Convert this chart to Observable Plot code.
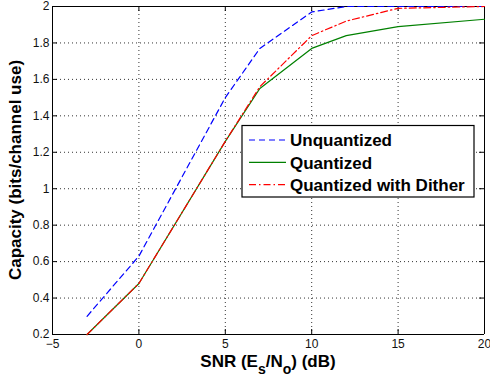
<!DOCTYPE html>
<html><head><meta charset="utf-8">
<script src="https://cdn.jsdelivr.net/npm/d3@7"></script>
<script src="https://cdn.jsdelivr.net/npm/@observablehq/plot@0.6"></script>
<style>
body{margin:0;background:#fff}
#chart{position:relative;width:490px;height:382px}
#chart svg{font-family:"Liberation Sans",Arial,Helvetica,sans-serif;display:block;position:absolute;left:0;top:0}
</style>
</head><body><div id="chart"></div>
<script>
// ---- data ----
const snr = [-3, 0, 5, 7, 10, 12, 15, 20];
const unquantized = [0.30, 0.63, 1.50, 1.77, 1.97, 2.00, 2.00, 2.00];
const quantized   = [0.20, 0.48, 1.26, 1.55, 1.77, 1.84, 1.89, 1.93];
const dither      = [0.20, 0.48, 1.26, 1.56, 1.84, 1.92, 1.99, 2.00];
const seriesNames = ["Unquantized", "Quantized", "Quantized with Dither"];
const seriesColors = ["#0000ff", "#008000", "#ff0000"];
const seriesDash = ["6,4", null, "7,3,1.5,3"];
const xTicks = [-5, 0, 5, 10, 15, 20];
const yTicks = [0.2, 0.4, 0.6, 0.8, 1.0, 1.2, 1.4, 1.6, 1.8, 2.0];
const xDomain = [-5, 20];
const yDomain = [0.2, 2];
const xLabelParts = ["SNR (E", "s", "/N", "o", ") (dB)"];
const yLabel = "Capacity (bits/channel use)";

// ---- layout ----
const W = 490, H = 382;
const mL = 52, mR = 6, mT = 6, mB = 48;
const pw = W - mL - mR, ph = H - mT - mB;
const common = {
  width: W, height: H,
  marginLeft: mL, marginRight: mR, marginTop: mT, marginBottom: mB,
  x: {domain: xDomain}, y: {domain: yDomain}
};

// background layer: grid, ticks, frame, tick labels
const back = Plot.plot({
  ...common,
  style: {fontSize: "12px", background: "#fff"},
  marks: [
    Plot.ruleX(xTicks, {x: d => d, stroke: "#000", strokeOpacity: 0.8, strokeDasharray: "1,3"}),
    Plot.ruleY(yTicks, {y: d => d, stroke: "#000", strokeOpacity: 0.8, strokeDasharray: "1,3"}),
    Plot.ruleX(xTicks, {x: d => d, insetTop: ph - 5, stroke: "#000"}),
    Plot.ruleX(xTicks, {x: d => d, insetBottom: ph - 5, stroke: "#000"}),
    Plot.ruleY(yTicks, {y: d => d, insetRight: pw - 5, stroke: "#000"}),
    Plot.ruleY(yTicks, {y: d => d, insetLeft: pw - 5, stroke: "#000"}),
    Plot.ruleX(xDomain, {x: d => d, stroke: "#000"}),
    Plot.ruleY(yDomain, {y: d => d, stroke: "#000"}),
    Plot.axisX(xTicks, {tickSize: 0, tickPadding: 5, label: null, fill: "#111"}),
    Plot.axisY(yTicks, {tickSize: 0, tickPadding: 3, label: null, fill: "#111",
      tickFormat: d => String(+d.toFixed(1))})
  ]
});

// foreground layer: data lines, labels, legend
const seriesValues = [unquantized, quantized, dither];
const rows = seriesNames.flatMap((name, i) => snr.map((x, j) => ({series: name, x, y: seriesValues[i][j]})));
const lineMarks = seriesNames.map((name, i) => Plot.line(rows.filter(d => d.series === name), {
  x: "x", y: "y", stroke: seriesColors[i], strokeWidth: 1.2,
  strokeDasharray: seriesDash[i] || undefined
}));
const front = Plot.plot({
  ...common,
  x: {domain: xDomain, axis: null},
  y: {domain: yDomain, axis: null},
  style: {fontSize: "12px", background: "transparent"},
  marks: lineMarks
});

const host = document.getElementById("chart");
host.appendChild(back);
host.appendChild(front);

const svg = d3.select(front);

// ---- labels ----
const xl = svg.append("text")
  .attr("x", mL + pw / 2).attr("y", 367)
  .attr("text-anchor", "middle")
  .style("font-size", "17px").style("font-weight", "bold").attr("fill", "#000");
xLabelParts.forEach((t, i) => {
  const sp = xl.append("tspan").text(t);
  if (i % 2 === 1) sp.attr("dy", 7).style("font-size", "14px");
  else if (i > 0) sp.attr("dy", -7);
});
svg.append("text")
  .attr("transform", `translate(21,${mT + ph / 2}) rotate(-90)`)
  .attr("text-anchor", "middle")
  .style("font-size", "17px").style("font-weight", "bold").attr("fill", "#000")
  .text(yLabel);

// ---- legend ----
const lg = svg.append("g").attr("text-anchor", "start");
const bx = 242, by = 125.5, bw = 232, bh = 71.5;
lg.append("rect").attr("x", bx).attr("y", by).attr("width", bw).attr("height", bh)
  .attr("fill", "#fff").attr("stroke", "#000").attr("stroke-width", 1.2);
seriesNames.forEach((name, i) => {
  const ly = by + 14.5 + i * 22.3;
  lg.append("line").attr("x1", bx + 7).attr("x2", bx + 44).attr("y1", ly).attr("y2", ly)
    .attr("stroke", seriesColors[i]).attr("stroke-width", 1.2)
    .attr("stroke-dasharray", seriesDash[i]);
  lg.append("text").attr("x", bx + 48).attr("y", ly + 6.3)
    .attr("text-anchor", "start")
    .style("font-size", "17px").style("font-weight", "bold").attr("fill", "#000")
    .text(name);
});
</script>
</body></html>
